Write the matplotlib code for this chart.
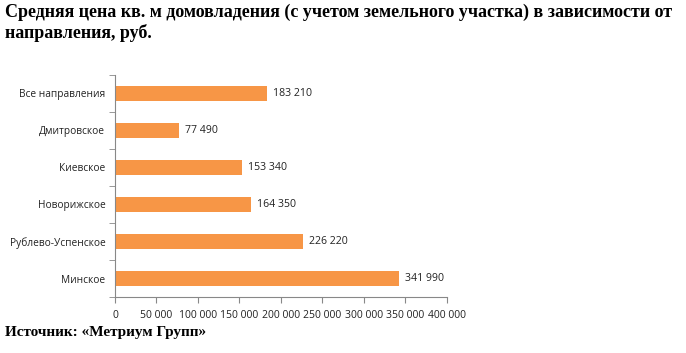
import numpy as np
import matplotlib.pyplot as plt
from matplotlib.ticker import FuncFormatter

categories = ['Минское', 'Рублево-Успенское', 'Новорижское', 'Киевское',
              'Дмитровское', 'Все направления']
values = [341990, 226220, 164350, 153340, 77490, 183210]
x_ticks = [0, 50000, 100000, 150000, 200000, 250000, 300000, 350000, 400000]


def fmt(v, pos=None):
    return f'{int(v):,}'.replace(',', ' ')


fig = plt.figure(figsize=(6.86, 3.53), dpi=100)
ax = fig.add_axes([0.1676, 0.1586, 0.484, 0.629])

y = np.arange(len(categories))
ax.barh(y, values, height=0.4, color='#f79646')
for yi, v in zip(y, values):
    ax.text(v + 7000, yi, fmt(v), va='center', ha='left', fontsize=7.6,
            family='Open Sans', color='#222222')

ax.set_xlim(0, 400000)
ax.set_ylim(-0.5, len(categories) - 0.5)
ax.set_xticks(x_ticks)
ax.xaxis.set_major_formatter(FuncFormatter(fmt))
ax.set_yticks(y)
ax.set_yticklabels(categories)
ax.set_yticks(np.arange(len(categories) + 1) - 0.5, minor=True)
ax.tick_params(axis='y', which='major', length=0, pad=7)
ax.tick_params(axis='y', which='minor', length=4, color='#888888')
ax.tick_params(axis='x', length=4, color='#888888', pad=5)
for lab in ax.get_yticklabels():
    lab.set_family('Open Sans')
    lab.set_fontsize(7.3)
    lab.set_color('#222222')
for lab in ax.get_xticklabels():
    lab.set_family('Open Sans')
    lab.set_fontsize(7.5)
    lab.set_color('#222222')

for s in ['top', 'right']:
    ax.spines[s].set_visible(False)
for s in ['left', 'bottom']:
    ax.spines[s].set_color('#888888')

fig.text(0.008, 0.99, 'Средняя цена кв. м домовладения (с учетом земельного участка) в зависимости от\nнаправления, руб.',
         ha='left', va='top', fontsize=13, fontweight='bold', family='Liberation Serif',
         linespacing=1.2)
fig.text(0.008, 0.057, 'Источник: «Метриум Групп»', ha='left', va='center',
         fontsize=11, fontweight='bold', family='Liberation Serif')

fig.savefig('out.png', dpi=100)
